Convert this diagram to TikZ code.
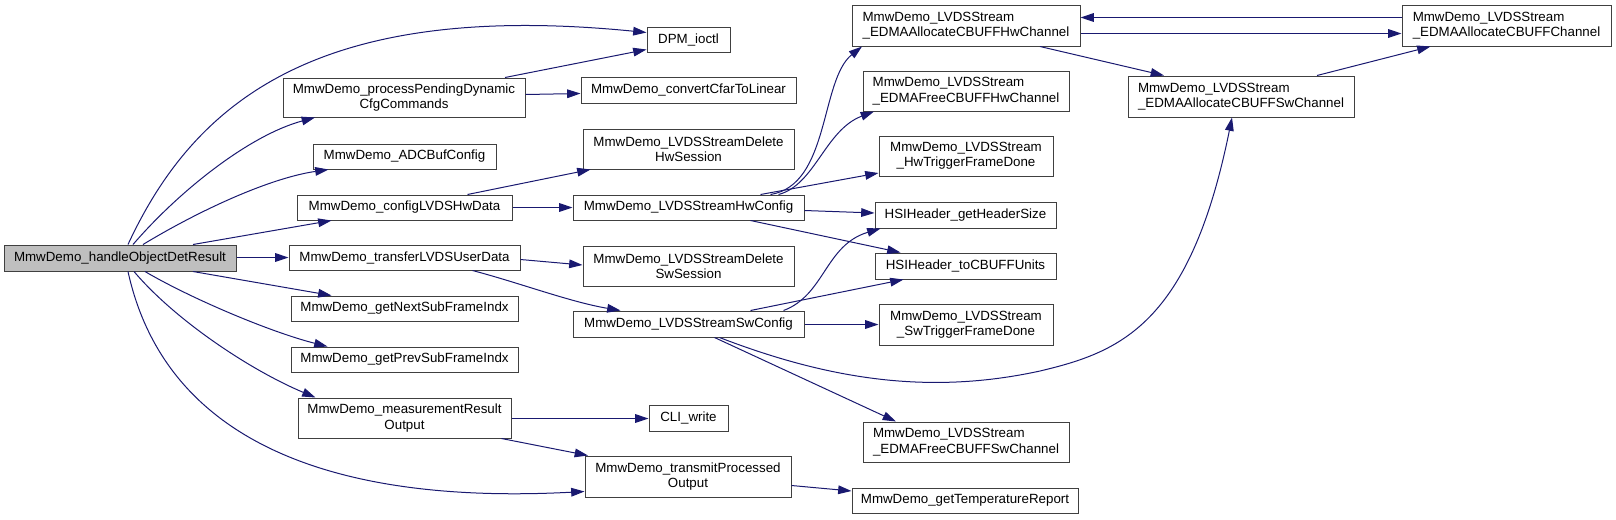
\documentclass[tikz,border=0pt]{standalone}
\usepackage{fontspec}
\setmainfont{Liberation Sans}
\usetikzlibrary{arrows.meta, positioning, calc}
\definecolor{edgeblue}{RGB}{25,25,112}
\definecolor{boxgray}{RGB}{64,64,64}
\definecolor{rootgray}{RGB}{191,191,191}

\begin{document}
\begin{tikzpicture}[x=0.75pt,y=-0.75pt,
    fn/.style={draw=boxgray, fill=white, line width=0.75pt, align=center,
               font=\fontsize{10}{11.5}\selectfont, inner xsep=2pt, inner ysep=1pt,
               minimum height=25*0.75pt},
    root/.style={fill=rootgray},
    lalign/.style={align=left},
    bw/.style={minimum width=#1*0.75pt},
    bh/.style={minimum height=#1*0.75pt},
    call/.style={draw=edgeblue, line width=0.75pt, -{Triangle[length=10pt,width=6.5pt]}}]
  \useasboundingbox (0,0) rectangle (1616,519);
  % Caller
  \node[fn,root,bw=232,bh=26] (handle) at (120,258) {MmwDemo\_handleObjectDetResult};
  % First level
  \node[fn,bw=242,bh=39] (pending) at (404,97.5) {MmwDemo\_processPendingDynamic\\CfgCommands};
  \node[fn,bw=183] (adcbuf) at (404.5,156.5) {MmwDemo\_ADCBufConfig};
  \node[fn,bw=215] (cfghw) at (404.5,207.5) {MmwDemo\_configLVDSHwData};
  \node[fn,bw=231] (xferuser) at (404.5,257.5) {MmwDemo\_transferLVDSUserData};
  \node[fn,bw=227] (nextsub) at (404.5,308.5) {MmwDemo\_getNextSubFrameIndx};
  \node[fn,bw=227] (prevsub) at (404.5,359.5) {MmwDemo\_getPrevSubFrameIndx};
  \node[fn,bw=213,bh=40] (measout) at (404.5,418) {MmwDemo\_measurementResult\\Output};
  % Second level
  \node[fn,bw=83] (dpmioctl) at (688.5,39.5) {DPM\_ioctl};
  \node[fn,bw=215,bh=26] (cfarlin) at (688.5,90) {MmwDemo\_convertCfarToLinear};
  \node[fn,bw=211,bh=40] (delhw) at (688.5,149) {MmwDemo\_LVDSStreamDelete\\HwSession};
  \node[fn,bw=231] (hwcfg) at (688.5,207.5) {MmwDemo\_LVDSStreamHwConfig};
  \node[fn,bw=211,bh=40] (delsw) at (688.5,266) {MmwDemo\_LVDSStreamDelete\\SwSession};
  \node[fn,bw=231,bh=26] (swcfg) at (688.5,324) {MmwDemo\_LVDSStreamSwConfig};
  \node[fn,bw=79,bh=26] (cliwrite) at (688.5,418) {CLI\_write};
  \node[fn,bw=206,bh=41] (xmitout) at (688,476.5) {MmwDemo\_transmitProcessed\\Output};
  % Third level
  \node[fn,lalign,bw=228,bh=41] (allochw) at (966,25.5) {MmwDemo\_LVDSStream\\\_EDMAAllocateCBUFFHwChannel};
  \node[fn,lalign,bw=206,bh=40] (freehw) at (966,91) {MmwDemo\_LVDSStream\\\_EDMAFreeCBUFFHwChannel};
  \node[fn,bw=174,bh=40] (hwtrig) at (966,156) {MmwDemo\_LVDSStream\\\_HwTriggerFrameDone};
  \node[fn,bw=181,bh=26] (hdrsize) at (965.5,215) {HSIHeader\_getHeaderSize};
  \node[fn,bw=181,bh=26] (tocbuff) at (965.5,266) {HSIHeader\_toCBUFFUnits};
  \node[fn,bw=174,bh=41] (swtrig) at (966,324.5) {MmwDemo\_LVDSStream\\\_SwTriggerFrameDone};
  \node[fn,lalign,bw=206,bh=40] (freesw) at (966,442) {MmwDemo\_LVDSStream\\\_EDMAFreeCBUFFSwChannel};
  \node[fn,bw=226] (tempreport) at (965,500.5) {MmwDemo\_getTemperatureReport};
  \node[fn,lalign,bw=226,bh=41] (allocsw) at (1241,96.5) {MmwDemo\_LVDSStream\\\_EDMAAllocateCBUFFSwChannel};
  \node[fn,lalign,bw=209,bh=41] (allocch) at (1506.5,25.5) {MmwDemo\_LVDSStream\\\_EDMAAllocateCBUFFChannel};
  % Calls from the caller
  \draw[call] ($(handle.north)+(8,0)$) .. controls (195,100) and (320,0) .. ($(dpmioctl.west)+(0,-7)$);
  \draw[call] ($(handle.north)+(13,0)$) .. controls (180,190) and (250,135) .. ($(pending.south)+(-89,0)$);
  \draw[call] ($(handle.north)+(23,0)$) .. controls (200,210) and (270,178) .. ($(adcbuf.south)+(-76,0)$);
  \draw[call] ($(handle.north)+(73,0)$) -- ($(cfghw.south)+(-73,0)$);
  \draw[call] ($(handle.east)+(0,-0.5)$) -- (xferuser.west);
  \draw[call] ($(handle.south)+(73,0)$) -- ($(nextsub.north)+(-73,0)$);
  \draw[call] ($(handle.south)+(25,0)$) .. controls (190,298) and (270,332) .. ($(prevsub.north)+(-77,0)$);
  \draw[call] ($(handle.south)+(14,0)$) .. controls (175,320) and (250,370) .. ($(measout.north)+(-89,0)$);
  \draw[call] ($(handle.south)+(8,0)$) .. controls (165,440) and (330,505) .. ($(xmitout.west)+(0,15)$);
  % First level calls
  \draw[call] ($(pending.north)+(101,0)$) -- ($(dpmioctl.west)+(0,10)$);
  \draw[call] ($(pending.east)+(0,-3)$) -- ($(cfarlin.west)+(0,3.5)$);
  \draw[call] ($(cfghw.north)+(63,0)$) -- ($(delhw.south)+(-98,0)$);
  \draw[call] (cfghw.east) -- (hwcfg.west);
  \draw[call] ($(xferuser.east)+(0,2)$) -- ($(delsw.west)+(0,-1)$);
  \draw[call] ($(xferuser.south)+(68,0)$) .. controls (520,283) and (570,302) .. ($(swcfg.north)+(-68,0)$);
  \draw[call] ($(measout.east)+(0,0.5)$) -- ($(cliwrite.west)+(0,0.5)$);
  \draw[call] ($(measout.south)+(97,0)$) -- ($(xmitout.north)+(-100,0)$);
  \draw[call] ($(xmitout.east)+(0,9)$) -- ($(tempreport.west)+(0,-9.5)$);
  % Hw config
  \draw[call] ($(hwcfg.north)+(82,0)$) .. controls (830,185) and (820,80) .. ($(allochw.south)+(-104,0)$);
  \draw[call] ($(hwcfg.north)+(90,0)$) .. controls (815,185) and (825,130) .. ($(freehw.south)+(-92,0)$);
  \draw[call] ($(hwcfg.north)+(72,0)$) -- ($(hwtrig.west)+(0,17)$);
  \draw[call] ($(hwcfg.east)+(0,3)$) -- ($(hdrsize.west)+(0,-2)$);
  \draw[call] ($(hwcfg.south)+(62,0)$) -- ($(tocbuff.north)+(-65,0)$);
  % Sw config
  \draw[call] ($(swcfg.north)+(95,0)$) .. controls (825,295) and (825,245) .. ($(hdrsize.south)+(-85,0)$);
  \draw[call] ($(swcfg.north)+(62,0)$) -- ($(tocbuff.south)+(-62,0)$);
  \draw[call] ($(swcfg.east)+(0,0.5)$) -- (swtrig.west);
  \draw[call] ($(swcfg.south)+(31,0)$) .. controls (830,380) and (930,395) .. (1040,371)
    .. controls (1120,352) and (1190,325) .. ($(allocsw.south)+(-9,0)$);
  \draw[call] ($(swcfg.south)+(26,0)$) -- ($(freesw.north)+(-70,0)$);
  % EDMA channels
  \draw[call] ($(allochw.east)+(0,8)$) -- ($(allocch.west)+(0,8)$);
  \draw[call] ($(allocch.west)+(0,-8)$) -- ($(allochw.east)+(0,-8)$);
  \draw[call] ($(allochw.south)+(74,0)$) -- ($(allocsw.north)+(-77,0)$);
  \draw[call] ($(allocsw.north)+(76,0)$) -- ($(allocch.south)+(-76,0)$);
\end{tikzpicture}
\end{document}
